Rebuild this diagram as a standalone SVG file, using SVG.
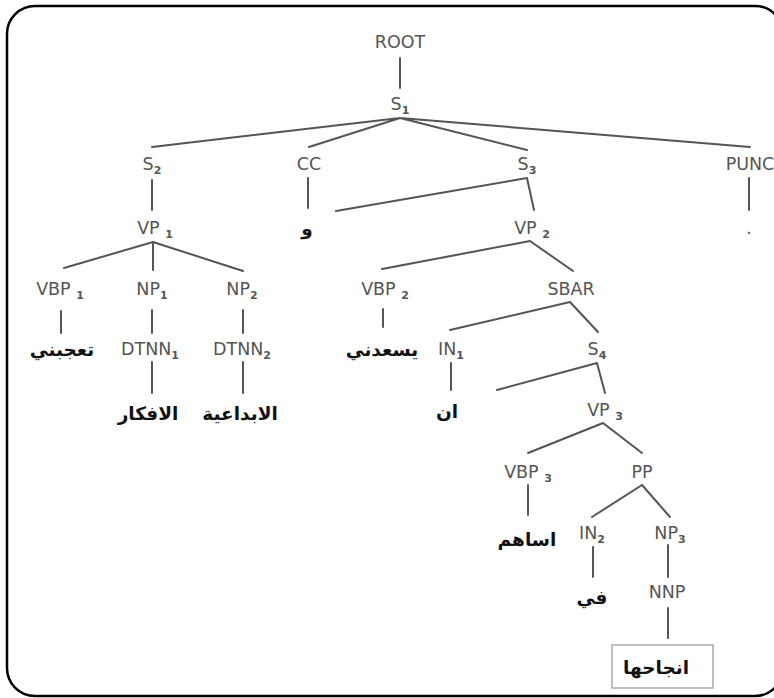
<svg xmlns="http://www.w3.org/2000/svg" width="774" height="698" viewBox="0 0 774 698">
<style>
.lbl{font-family:"DejaVu Sans",sans-serif;font-size:17.5px;fill:#555;text-anchor:middle}
.sub{font-size:11px;font-weight:bold}
.ar{font-family:"DejaVu Sans","Noto Sans",sans-serif;font-size:18.5px;font-weight:bold;fill:#111;text-anchor:middle}
.e{stroke:#555;stroke-width:2;fill:none;stroke-linecap:round}
</style>
<rect x="7" y="6" width="776" height="690" rx="28" fill="#fff" stroke="#000" stroke-width="2.5"/>
<g id="connectors" class="e">
<path d="M400 58V88"/>
<path d="M400 118L152 147M400 118L309 147M400 118L527 150M400 118L750 147"/>
<path d="M152 180V210M308 178V208M749 178V210"/>
<path d="M527 178L336 211M527 178L534 210"/>
<path d="M153 242L64 268M153 242L153 270M153 242L243 271"/>
<path d="M61 311V333M152 310V333M243 310V333M152 362V393M243 362V393"/>
<path d="M530 241L382 269M530 241L573 271"/>
<path d="M383 309V327"/>
<path d="M570 302L450 330M570 302L598 332"/>
<path d="M451 363V390"/>
<path d="M597 363L497 390M597 363L605 393"/>
<path d="M603 423L528 453M603 423L642 453"/>
<path d="M528 485V515"/>
<path d="M642 485L592 517M642 485L670 517"/>
<path d="M593 547V577M668 545V577M668 608V638"/>
</g>
<g id="ROOT"><text class="lbl" x="400" y="48">ROOT</text></g>
<g id="S1"><text class="lbl" x="400" y="110">S<tspan class="sub" dy="4">1</tspan></text></g>
<g id="S2"><text class="lbl" x="152" y="170">S<tspan class="sub" dy="4">2</tspan></text></g>
<g id="CC"><text class="lbl" x="309" y="170">CC</text></g>
<g id="S3"><text class="lbl" x="527" y="170">S<tspan class="sub" dy="4">3</tspan></text></g>
<g id="PUNC"><text class="lbl" x="750" y="170">PUNC</text></g>
<g id="VP1"><text class="lbl" x="155" y="234">VP <tspan class="sub" dy="4">1</tspan></text></g>
<g id="w"><text class="ar" x="307" y="235">و</text></g>
<g id="VP2"><text class="lbl" x="532" y="234">VP <tspan class="sub" dy="4">2</tspan></text></g>
<g id="dot"><text class="lbl" x="749" y="234" font-size="14">.</text></g>
<g id="VBP1"><text class="lbl" x="60" y="295">VBP <tspan class="sub" dy="4">1</tspan></text></g>
<g id="NP1"><text class="lbl" x="152" y="295">NP<tspan class="sub" dy="4">1</tspan></text></g>
<g id="NP2"><text class="lbl" x="242" y="295">NP<tspan class="sub" dy="4">2</tspan></text></g>
<g id="VBP2"><text class="lbl" x="385" y="295">VBP <tspan class="sub" dy="4">2</tspan></text></g>
<g id="SBAR"><text class="lbl" x="571" y="295">SBAR</text></g>
<g id="w1"><text class="ar" x="62" y="356">تعجبني</text></g>
<g id="DTNN1"><text class="lbl" x="150" y="355">DTNN<tspan class="sub" dy="4">1</tspan></text></g>
<g id="DTNN2"><text class="lbl" x="242" y="355">DTNN<tspan class="sub" dy="4">2</tspan></text></g>
<g id="w4"><text class="ar" x="382" y="356">يسعدني</text></g>
<g id="IN1"><text class="lbl" x="451" y="355">IN<tspan class="sub" dy="4">1</tspan></text></g>
<g id="S4"><text class="lbl" x="597" y="355">S<tspan class="sub" dy="4">4</tspan></text></g>
<g id="w2"><text class="ar" x="148" y="420">الافكار</text></g>
<g id="w3"><text class="ar" x="240" y="420">الابداعية</text></g>
<g id="w5"><text class="ar" x="447" y="418">ان</text></g>
<g id="VP3"><text class="lbl" x="605" y="416">VP <tspan class="sub" dy="4">3</tspan></text></g>
<g id="VBP3"><text class="lbl" x="528" y="478">VBP <tspan class="sub" dy="4">3</tspan></text></g>
<g id="PP"><text class="lbl" x="642" y="478">PP</text></g>
<g id="w6"><text class="ar" x="527" y="546">اساهم</text></g>
<g id="IN2"><text class="lbl" x="592" y="539">IN<tspan class="sub" dy="4">2</tspan></text></g>
<g id="NP3"><text class="lbl" x="670" y="539">NP<tspan class="sub" dy="4">3</tspan></text></g>
<g id="w7"><text class="ar" x="592" y="604">في</text></g>
<g id="NNP"><text class="lbl" x="667" y="598">NNP</text></g>
<g id="w8"><rect x="612" y="645" width="101" height="43" fill="#fff" stroke="#aaa" stroke-width="1.5"/><text class="ar" x="656" y="674">انجاحها</text></g>
</svg>
